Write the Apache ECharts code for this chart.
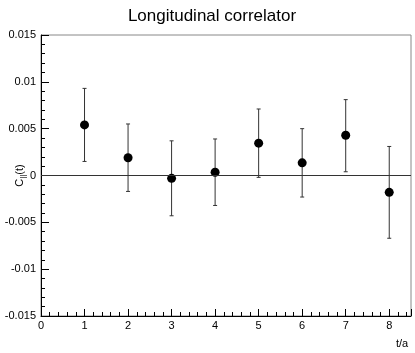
<!doctype html>
<html>
<head>
    <meta charset="utf-8">
    <script src="https://cdn.jsdelivr.net/npm/echarts@6/dist/echarts.min.js"></script>
    <style>
        html, body { margin: 0; padding: 0; background: #fff; }
    </style>
</head>
<body>
<div id="main" style="width: 415px;height:353px;"></div>
<script type="text/javascript">
    // t/a values and correlator C_||(t) with its error band
    var tValues = [1, 2, 3, 4, 5, 6, 7, 8];
    var corr = [0.0054, 0.0019, -0.0003, 0.00035, 0.00345, 0.00135, 0.0043, -0.0018];
    var upper = [0.0093, 0.0055, 0.0037, 0.0039, 0.0071, 0.0050, 0.0081, 0.0031];
    var lower = [0.0015, -0.0017, -0.0043, -0.0032, -0.0002, -0.0023, 0.0004, -0.0067];
    var yTicks = [-0.015, -0.01, -0.005, 0, 0.005, 0.01, 0.015];

    var font = 'Liberation Sans, Arial, Helvetica, sans-serif';

    var points = tValues.map(function (t, i) { return [t, corr[i]]; });
    var bars = tValues.map(function (t, i) { return [t, lower[i], upper[i]]; });

    var myChart = echarts.init(document.getElementById('main'));

    var option = {
        animation: false,
        backgroundColor: '#fff',
        textStyle: { fontFamily: font },
        title: {
            text: 'Longitudinal correlator',
            left: 207,
            top: 3,
            textAlign: 'center',
            textStyle: { fontFamily: font, fontSize: 17, fontWeight: 'normal', color: '#000' }
        },
        grid: {
            left: 41, right: 4, top: 35, bottom: 37,
            containLabel: false,
            outerBoundsMode: 'none',
            show: true, borderColor: '#888', borderWidth: 1
        },
        xAxis: {
            type: 'value',
            min: 0, max: 8.5, interval: 1,
            name: 't/a',
            nameLocation: 'end',
            nameGap: -15,
            nameMoveOverlap: false,
            nameTextStyle: { color: '#000', fontSize: 11, align: 'left', verticalAlign: 'top', padding: [22, 0, 0, 0] },
            axisLine: { onZero: false, lineStyle: { color: '#000', width: 1 } },
            axisTick: { inside: true, length: 7, lineStyle: { color: '#000' } },
            minorTick: { show: true, splitNumber: 5, length: 4, lineStyle: { color: '#000' } },
            splitLine: { show: false },
            axisLabel: {
                color: '#000', fontSize: 11, margin: 4, showMaxLabel: false,
                formatter: function (v) { return v % 1 === 0 ? String(v) : ''; }
            }
        },
        yAxis: {
            type: 'value',
            min: -0.015, max: 0.015, interval: 0.005,
            name: '{c|C}{s|||}{c|(t)}',
            nameLocation: 'middle',
            nameGap: 14,
            nameMoveOverlap: false,
            nameTextStyle: {
                rich: {
                    c: { fontSize: 11, color: '#000', fontFamily: font },
                    s: { fontSize: 8, color: '#000', fontFamily: font, padding: [6, 0, 0, 0] }
                }
            },
            axisLine: { lineStyle: { color: '#000', width: 1 } },
            axisTick: { inside: true, length: 8, lineStyle: { color: '#000' } },
            minorTick: { show: true, splitNumber: 5, length: 4, lineStyle: { color: '#000' } },
            splitLine: { show: false },
            axisLabel: {
                color: '#000', fontSize: 11, margin: 5,
                formatter: function (v) {
                    var r = Math.round(v * 1000) / 1000;
                    for (var i = 0; i < yTicks.length; i++) {
                        if (Math.abs(yTicks[i] - r) < 1e-9) return String(yTicks[i]);
                    }
                    return '';
                }
            }
        },
        series: [
            {
                // error bars
                type: 'custom',
                data: bars,
                z: 2,
                renderItem: function (params, api) {
                    var lo = api.coord([api.value(0), api.value(1)]);
                    var hi = api.coord([api.value(0), api.value(2)]);
                    var cap = 2;
                    var st = { stroke: '#333', lineWidth: 1 };
                    return {
                        type: 'group',
                        children: [
                            { type: 'line', shape: { x1: lo[0], y1: lo[1], x2: hi[0], y2: hi[1] }, style: st },
                            { type: 'line', shape: { x1: lo[0] - cap, y1: lo[1], x2: lo[0] + cap, y2: lo[1] }, style: st },
                            { type: 'line', shape: { x1: hi[0] - cap, y1: hi[1], x2: hi[0] + cap, y2: hi[1] }, style: st }
                        ]
                    };
                }
            },
            {
                type: 'scatter',
                data: points,
                symbol: 'circle',
                symbolSize: 9,
                z: 3,
                itemStyle: { color: '#000', opacity: 1 },
                markLine: {
                    silent: true,
                    symbol: 'none',
                    label: { show: false },
                    lineStyle: { color: '#333', type: 'solid', width: 1 },
                    data: [{ yAxis: 0 }]
                }
            }
        ]
    };

    myChart.setOption(option);
</script>
</body>
</html>
